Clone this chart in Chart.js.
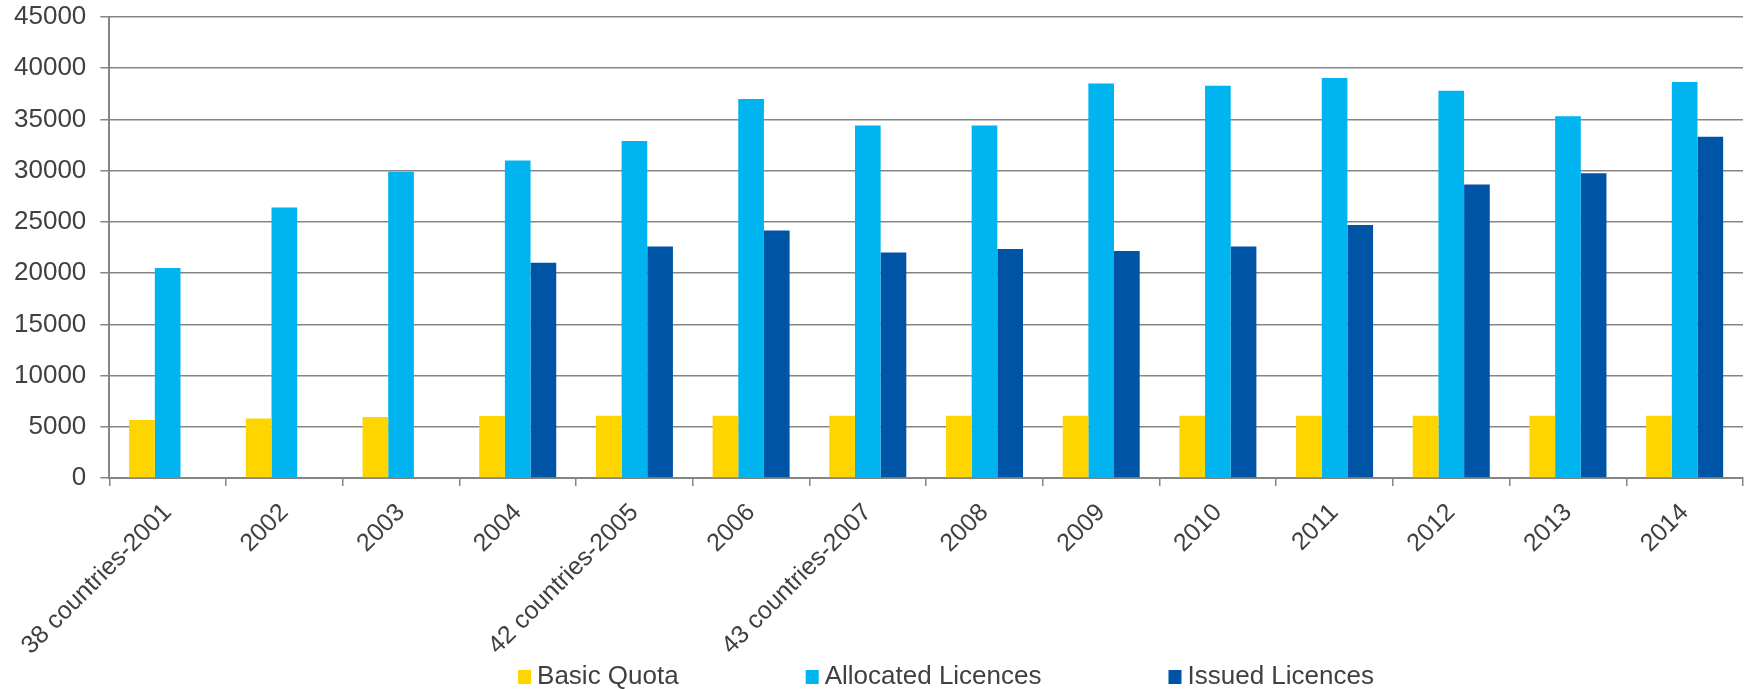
<!DOCTYPE html>
<html>
<head>
<meta charset="utf-8">
<script src="https://cdn.jsdelivr.net/npm/chart.js@4.4.1/dist/chart.umd.min.js"></script>
<style>
  html, body { margin: 0; padding: 0; background: #fff; }
  #wrap { width: 1746px; height: 689px; position: relative; }
</style>
</head>
<body>
<div id="wrap"><canvas id="chart"></canvas></div>
<script>
// Categorias (anos) e séries
const categorias = ['38 countries-2001', '2002', '2003', '2004', '42 countries-2005', '2006',
  '43 countries-2007', '2008', '2009', '2010', '2011', '2012', '2013', '2014'];
const basicQuota = [5650, 5800, 5950, 6050, 6080, 6080, 6080, 6080, 6080, 6080, 6080, 6080, 6080, 6080];
const allocatedLicences = [20500, 26400, 29900, 31000, 32900, 37000, 34400, 34400, 38500, 38300, 39050, 37800, 35300, 38650];
const issuedLicences = [null, null, null, 21000, 22600, 24150, 22000, 22350, 22150, 22600, 24700, 28650, 29750, 33300];
const yTicks = [0, 5000, 10000, 15000, 20000, 25000, 30000, 35000, 40000, 45000];

const fonte = { family: 'Liberation Sans, Arial, sans-serif', size: 26 };
const fonteX = { family: 'Liberation Sans, Arial, sans-serif', size: 25 };
const corTexto = '#404040';
const corGrade = '#858585';

// Legenda desenhada à mão: o padding da legenda do Chart.js também aumenta a altura
const legendaManual = {
  id: 'legendaManual',
  afterDraw(chart) {
    const c = chart.ctx;
    const sets = chart.data.datasets;
    c.save();
    c.font = fonte.size + 'px ' + fonte.family;
    c.textBaseline = 'middle';
    const caixa = 13, espaco = 6, intervalo = 127;
    const larguras = sets.map(ds => caixa + espaco + c.measureText(ds.label).width);
    const total = larguras.reduce((a, b) => a + b, 0) + intervalo * (sets.length - 1);
    let x = 946 - total / 2;
    const y = 677;
    sets.forEach((ds, i) => {
      c.fillStyle = ds.backgroundColor;
      c.fillRect(x, y - 7, caixa, 14);
      c.fillStyle = corTexto;
      c.fillText(ds.label, x + caixa + espaco, y);
      x += larguras[i] + intervalo;
    });
    c.restore();
  }
};

const ctx = document.getElementById('chart').getContext('2d');
new Chart(ctx, {
  type: 'bar',
  data: {
    labels: categorias,
    datasets: [
      { label: 'Basic Quota', data: basicQuota, backgroundColor: '#FFD500' },
      { label: 'Allocated Licences', data: allocatedLicences, backgroundColor: '#00B4EF' },
      { label: 'Issued Licences', data: issuedLicences, backgroundColor: '#0054A5' }
    ]
  },
  plugins: [legendaManual],
  options: {
    responsive: true,
    maintainAspectRatio: false,
    animation: false,
    layout: { padding: { left: 0, right: 3, top: 0, bottom: 31 } },
    datasets: {
      bar: { categoryPercentage: 0.66, barPercentage: 1.0, borderWidth: 0 }
    },
    plugins: {
      tooltip: { enabled: false },
      legend: { display: false }
    },
    scales: {
      x: {
        grid: {
          offset: true,
          drawOnChartArea: false,
          color: corGrade,
          lineWidth: 1.5,
          tickLength: 8
        },
        border: { color: corGrade, width: 2 },
        ticks: {
          font: fonteX,
          color: corTexto,
          minRotation: 45,
          maxRotation: 45,
          autoSkip: false,
          padding: 12
        },
        afterFit: (scale) => { scale.height = 180; }
      },
      y: {
        min: 0,
        max: 45000,
        afterBuildTicks: (scale) => { scale.ticks = yTicks.map(v => ({ value: v })); },
        afterFit: (scale) => { scale.paddingTop = 17; },
        grid: {
          color: corGrade,
          lineWidth: 1.5,
          tickLength: 9
        },
        border: { color: corGrade, width: 2 },
        ticks: {
          font: fonte,
          color: corTexto,
          padding: 14,
          callback: (v) => String(v)
        }
      }
    }
  }
});
</script>
</body>
</html>
